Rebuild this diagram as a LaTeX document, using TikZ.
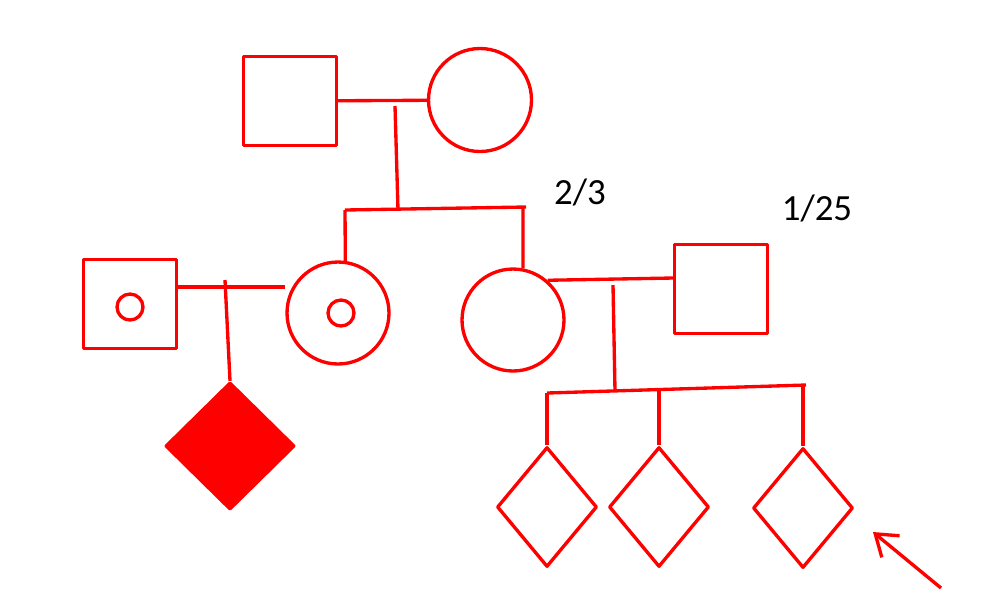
\documentclass[tikz,border=0pt]{standalone}
\usepackage{fontspec}
\setmainfont{Carlito}
\usetikzlibrary{shapes.geometric,arrows.meta}

\begin{document}
\begin{tikzpicture} [x=0.02cm, y=-0.02cm, red, line width=1.9pt, line join=round,
                    male/.style={draw,rectangle,minimum width=1.86cm,minimum height=1.77cm,inner sep=0pt},
                    female/.style={draw,circle,minimum size=2.04cm,inner sep=0pt},
                    dot/.style={draw,circle,minimum size=0.52cm,inner sep=0pt},
                    child/.style={draw,diamond,minimum width=2cm,minimum height=2.4cm,inner sep=0pt},
                    affected/.style={draw,fill=red,diamond,minimum width=2.58cm,minimum height=2.54cm,inner sep=0pt},
                    prob/.style={text=black,font=\fontsize{21}{25}\selectfont}]
\useasboundingbox (0,0) rectangle (996,610);

\node[male] (gf) at (290,101) {};
\node[female,minimum size=2.06cm] (gm) at (480,100) {};

\node[male] (fa) at (130,304) {};
\node[dot] (fadot) at (130,307) {};
\node[female] (mo) at (338,313) {};
\node[dot] (modot) at (341,313) {};
\node[female] (da) at (513,320) {};
\node[male] (sp) at (721,289) {};

\node[affected] (pb) at (230,446) {};
\node[child] (c1) at (547,507) {};
\node[child] (c2) at (659,507) {};
\node[child] (c3) at (803,508) {};

\node[prob] (t1) at (580,192) {2/3};
\node[prob] (t2) at (817,208) {1/25};

\coordinate (g1) at (395,106);
\coordinate (s1l) at (345,210);
\coordinate (s1r) at (526,207);
\coordinate (m2) at (225,280);
\coordinate (m3) at (613,285);
\coordinate (s3l) at (547,393);
\coordinate (s3r) at (806,385);
\coordinate (arr) at (941,588);
\coordinate (arrtip) at (873,532);

\draw (gf) -- (gm);
\draw (g1) -- (398,210);
\draw (s1l) -- (s1r);
\draw (s1l) -- (mo.82);
\draw (523,208) -- (da.79);

\draw (fa.east |- 0,287) -- (mo.west |- 0,287);
\draw (m2) -- (pb.north);
\draw (da.49) -- ([yshift=0.22cm]sp.west);
\draw (m3) -- (615,391);
\draw (s3l) -- (s3r);
\draw (c1.north |- s3l) -- (c1.north);
\draw (c2.north |- 0,390) -- (c2.north);
\draw (c3.north |- 0,386) -- (c3.north);

\draw[-{Straight Barb[length=0.4cm,width=0.56cm]}] (arr) -- (arrtip);
\end{tikzpicture}
\end{document}
